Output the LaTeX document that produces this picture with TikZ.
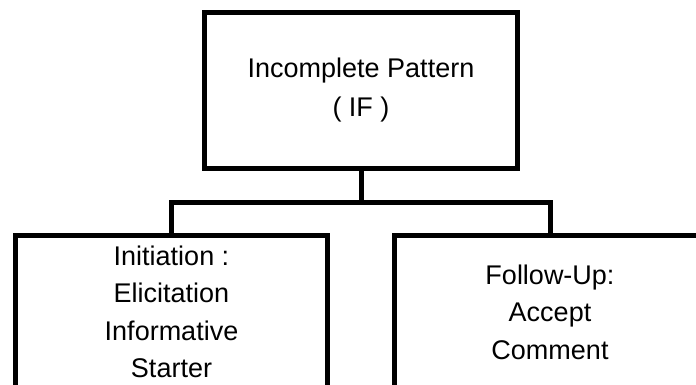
\documentclass[tikz,border=0pt]{standalone}
\usepackage{fontspec}
\setmainfont{Liberation Sans}
\begin{document}
\begin{tikzpicture}[x=1pt,y=-1pt,
    box/.style={draw,line width=5pt,rectangle,align=center,
        font=\fontsize{27}{37.5}\selectfont}]
    \useasboundingbox (0,0) rectangle (696,385);
    \clip (0,0) rectangle (696,385);
    \node[box,minimum width=313pt,minimum height=156pt] (pattern) at (361,90.5) {Incomplete Pattern\\[1.5pt]( IF )};
    \node[box,minimum width=312pt,minimum height=153pt] (init) at (171.5,312) {Initiation :\\Elicitation\\Informative\\Starter};
    \node[box,minimum width=311pt,minimum height=153pt] (follow) at (550,312) {Follow-Up:\\Accept\\Comment};
    \coordinate (bar) at (361,202);
    \draw[line width=5pt] (pattern.south) -- (bar);
    \draw[line width=5pt] (init.north) |- (bar) -| (follow.north);
\end{tikzpicture}
\end{document}
